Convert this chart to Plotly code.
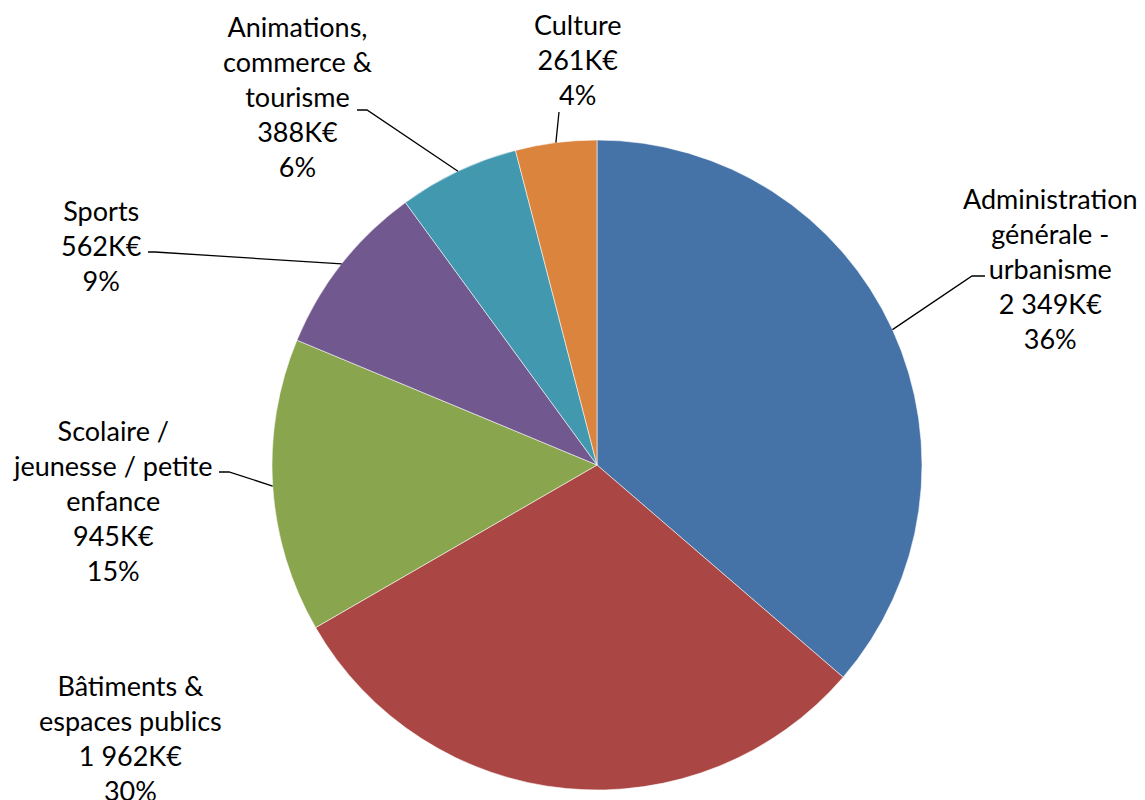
import math
import plotly.graph_objects as go

# ---- data ----
categories = [
    "Administration générale - urbanisme",
    "Bâtiments & espaces publics",
    "Scolaire / jeunesse / petite enfance",
    "Sports",
    "Animations, commerce & tourisme",
    "Culture",
]
label_lines = [
    ["Administration", "générale -", "urbanisme"],
    ["Bâtiments &", "espaces publics"],
    ["Scolaire /", "jeunesse / petite", "enfance"],
    ["Sports"],
    ["Animations,", "commerce &", "tourisme"],
    ["Culture"],
]
values = [2349, 1962, 945, 562, 388, 261]  # K€

# ---- style ----
colors = ["#4572A7", "#AA4643", "#89A54E", "#71588F", "#4198AF", "#DB843D"]
OFF = 8                      # page body margin in the browser
W, H = 1145 - OFF, 800 - OFF  # figure size
CX, CY, R = 597, 465, 325     # pie centre / radius in screen pixels
FONT = "Lato"
FSIZE = 27
# label block centre (screen px) and leader elbow points (screen px) per slice
label_pos = [(1050, 268), (130, 738), (113, 500), (101, 245), (297, 96), (578, 60)]
elbows = [
    [(972, 276), (985, 276)],
    None,
    [(229, 472), (219, 472)],
    [(155, 252), (148, 252)],
    [(367, 110), (357, 110)],
    [(559, 112)],
]

def px(x):
    return (x - OFF) / W

def py(y):
    return 1 - (y - OFF) / H

total = sum(values)

def fmt_k(v):
    return f"{v:,}".replace(",", " ") + "K€"

fig = go.Figure(
    go.Pie(
        labels=categories,
        values=values,
        sort=False,
        direction="clockwise",
        rotation=0,
        marker=dict(colors=colors, line=dict(color="rgba(255,255,255,0.55)", width=1)),
        textinfo="none",
        hoverinfo="skip",
        showlegend=False,
        domain=dict(x=[px(CX - R), px(CX + R)], y=[py(CY + R), py(CY - R)]),
    )
)

annotations = []
shapes = []
cum = 0
for i, v in enumerate(values):
    frac_mid = (cum + v / 2) / total
    cum += v
    ang = 2 * math.pi * frac_mid
    ax = CX + R * math.sin(ang)
    ay = CY - R * math.cos(ang)
    pct = round(v / total * 100)
    text = "<br>".join(label_lines[i] + [fmt_k(v), f"{pct}%"])
    lx, ly = label_pos[i]
    annotations.append(
        dict(
            x=px(lx), y=py(ly), xref="paper", yref="paper",
            text=text, showarrow=False, align="center",
            xanchor="center", yanchor="middle",
            font=dict(family=FONT, size=FSIZE, color="#000000"),
        )
    )
    if elbows[i]:
        pts = [(ax, ay)] + elbows[i]
        path = "M " + " L ".join(f"{px(x)},{py(y)}" for x, y in pts)
        shapes.append(
            dict(type="path", xref="paper", yref="paper", path=path,
                 line=dict(color="#000000", width=1.3))
        )

fig.update_layout(
    width=W, height=H,
    margin=dict(l=0, r=0, t=0, b=0),
    paper_bgcolor="white", plot_bgcolor="white",
    annotations=annotations, shapes=shapes,
    font=dict(family=FONT),
)

fig.write_html("out.html")
